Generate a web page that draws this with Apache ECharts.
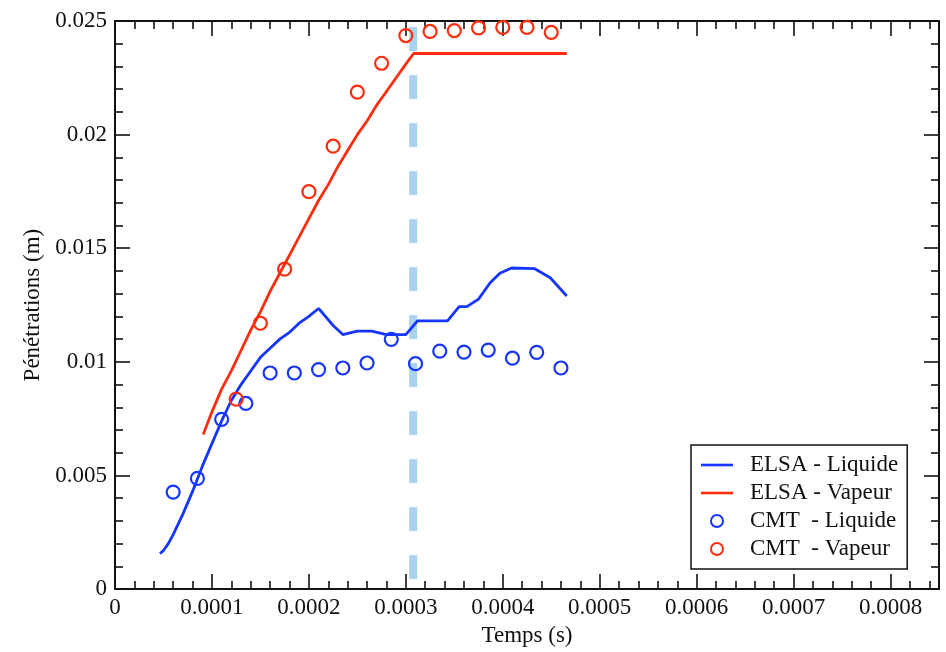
<!DOCTYPE html>
<html>
<head>
<meta charset="utf-8">
<script src="https://cdn.jsdelivr.net/npm/echarts@6/dist/echarts.min.js"></script>
<style>
  html, body { margin: 0; padding: 0; background: #fff; }
  #main { width: 946px; height: 652px; }
</style>
</head>
<body>
<div id="main"></div>
<script>
// temps (s) / penetrations (m)
var elsaLiqT = [0.0000464, 0.00005, 0.000055, 0.00006, 0.00007, 0.00008, 0.00009, 0.0001, 0.00011, 0.00012,
  0.00013, 0.00014, 0.00015, 0.00016, 0.00017, 0.00018, 0.00019, 0.0002, 0.00021, 0.000225,
  0.000235, 0.00025, 0.000265, 0.00028, 0.0003, 0.000312, 0.000343, 0.000355, 0.000363, 0.000375,
  0.000387, 0.000397, 0.000409, 0.000433, 0.000449, 0.000466];
var elsaLiqP = [0.00156, 0.0017, 0.0020, 0.0024, 0.0033, 0.0043, 0.0054, 0.0064, 0.0074, 0.0083,
  0.0090, 0.0096, 0.0102, 0.0106, 0.0110, 0.0113, 0.0117, 0.0120, 0.01235, 0.0116,
  0.0112, 0.01135, 0.01135, 0.0112, 0.0112, 0.0118, 0.0118, 0.01243, 0.01243, 0.01276,
  0.01348, 0.0139, 0.01413, 0.0141, 0.0137, 0.0129];

var elsaVapT = [0.000091, 0.0001, 0.00011, 0.00012, 0.00013, 0.00014, 0.00015, 0.00016, 0.00017, 0.00018,
  0.00019, 0.0002, 0.00021, 0.00022, 0.00023, 0.00024, 0.00025, 0.00026, 0.00027, 0.00028,
  0.00029, 0.0003, 0.000308, 0.000466];
var elsaVapP = [0.0068, 0.0078, 0.0088, 0.0096, 0.0105, 0.0114, 0.0122, 0.0131, 0.0139, 0.0147,
  0.0155, 0.0163, 0.0171, 0.0178, 0.0186, 0.0193, 0.0200, 0.0206, 0.0213, 0.0219,
  0.0225, 0.0231, 0.02357, 0.02357];

var cmtLiqT = [0.00006, 0.000085, 0.00011, 0.000135, 0.00016, 0.000185, 0.00021, 0.000235, 0.00026,
  0.000285, 0.00031, 0.000335, 0.00036, 0.000385, 0.00041, 0.000435, 0.00046];
var cmtLiqP = [0.00427, 0.00487, 0.00747, 0.00817, 0.00951, 0.00951, 0.00966, 0.00973, 0.00995,
  0.01099, 0.00992, 0.01047, 0.01043, 0.01052, 0.01016, 0.01042, 0.00973];

var cmtVapT = [0.000125, 0.00015, 0.000175, 0.0002, 0.000225, 0.00025, 0.000275, 0.0003, 0.000325,
  0.00035, 0.000375, 0.0004, 0.000425, 0.00045];
var cmtVapP = [0.00836, 0.0117, 0.01408, 0.01749, 0.01949, 0.02187, 0.02314, 0.02436, 0.02454,
  0.02458, 0.0247, 0.02472, 0.02472, 0.0245];

var seriesNames = ['ELSA - Liquide', 'ELSA - Vapeur', 'CMT  - Liquide', 'CMT  - Vapeur'];
var cutT = 0.0003076;   // dashed vertical marker
var cutSpan = [0, 0.025];

var BLUE = '#1636ff';
var RED = '#ff2d10';
var FONT = '"Liberation Serif", "DejaVu Serif", serif';
var LINE_ICON = 'path://M0,0 L32,0 L32,2.6 L0,2.6 Z';

function zip(a, b) {
  return a.map(function (v, i) { return [v, b[i]]; });
}

function fmt(step) {
  return function (v) {
    var k = v / step;
    if (Math.abs(k - Math.round(k)) > 1e-6) return '';
    return v === 0 ? '0' : String(+v.toFixed(6));
  };
}

var chart = echarts.init(document.getElementById('main'));

var axisLine = { show: true, onZero: false, lineStyle: { color: '#111', width: 2 } };
var tick = { show: true, inside: true, length: 15, lineStyle: { color: '#111', width: 1.6 } };
var minor = { show: true, splitNumber: 5, length: 8, lineStyle: { color: '#111', width: 1.6 } };

function xAx(pos, labels) {
  return {
    type: 'value', position: pos, min: 0, max: 0.00085, interval: 0.0001,
    axisLine: axisLine, axisTick: tick, minorTick: minor,
    splitLine: { show: false },
    axisLabel: { show: labels, margin: 7, color: '#111', fontFamily: FONT, fontSize: 23,
      showMaxLabel: false, formatter: fmt(0.0001) },
    name: labels ? 'Temps (s)' : '', nameLocation: 'middle', nameGap: 27,
    nameTextStyle: { color: '#111', fontFamily: FONT, fontSize: 23 }
  };
}

function yAx(pos, labels) {
  return {
    type: 'value', position: pos, min: 0, max: 0.025, interval: 0.005,
    axisLine: axisLine, axisTick: tick, minorTick: minor,
    splitLine: { show: false },
    axisLabel: { show: labels, margin: 8, color: '#111', fontFamily: FONT, fontSize: 23,
      formatter: fmt(0.005) },
    name: labels ? 'Pénétrations (m)' : '', nameLocation: 'middle', nameGap: 70, nameRotate: 90,
    nameTextStyle: { color: '#111', fontFamily: FONT, fontSize: 23 }
  };
}

chart.setOption({
  animation: false,
  backgroundColor: '#fff',
  grid: { left: 115, right: 7, top: 21, bottom: 54 },
  xAxis: [xAx('bottom', true), xAx('top', false)],
  yAxis: [yAx('left', true), yAx('right', false)],
  legend: {
    data: [
      { name: seriesNames[0], icon: LINE_ICON },
      { name: seriesNames[1], icon: LINE_ICON },
      { name: seriesNames[2] },
      { name: seriesNames[3] }
    ],
    orient: 'vertical', left: 691, top: 445,
    backgroundColor: '#fff', borderColor: '#111', borderWidth: 1.5,
    padding: [8, 9, 8, 10], itemGap: 4,
    itemWidth: 32, itemHeight: 12, symbolKeepAspect: true,
    textStyle: { color: '#111', fontFamily: FONT, fontSize: 23, lineHeight: 24, padding: [0, 0, 0, 12] }
  },
  series: [
    {
      type: 'line', name: 'cut', silent: true, symbol: 'none', z: 1,
      data: zip([cutT, cutT], cutSpan),
      lineStyle: { color: '#a9d3ef', width: 8, type: [24, 24], dashOffset: 38 }
    },
    {
      type: 'line', name: seriesNames[0], symbol: 'none', z: 3,
      data: zip(elsaLiqT, elsaLiqP),
      lineStyle: { color: BLUE, width: 2.8 }, itemStyle: { color: BLUE }
    },
    {
      type: 'line', name: seriesNames[1], symbol: 'none', z: 3,
      data: zip(elsaVapT, elsaVapP),
      lineStyle: { color: RED, width: 2.8 }, itemStyle: { color: RED }
    },
    {
      type: 'scatter', name: seriesNames[2], symbol: 'circle', symbolSize: 13, z: 4,
      data: zip(cmtLiqT, cmtLiqP),
      itemStyle: { color: 'rgba(0,0,0,0)', borderColor: BLUE, borderWidth: 2.2, opacity: 1 }
    },
    {
      type: 'scatter', name: seriesNames[3], symbol: 'circle', symbolSize: 13, z: 4,
      data: zip(cmtVapT, cmtVapP),
      itemStyle: { color: 'rgba(0,0,0,0)', borderColor: RED, borderWidth: 2.2, opacity: 1 }
    }
  ]
});
</script>
</body>
</html>
